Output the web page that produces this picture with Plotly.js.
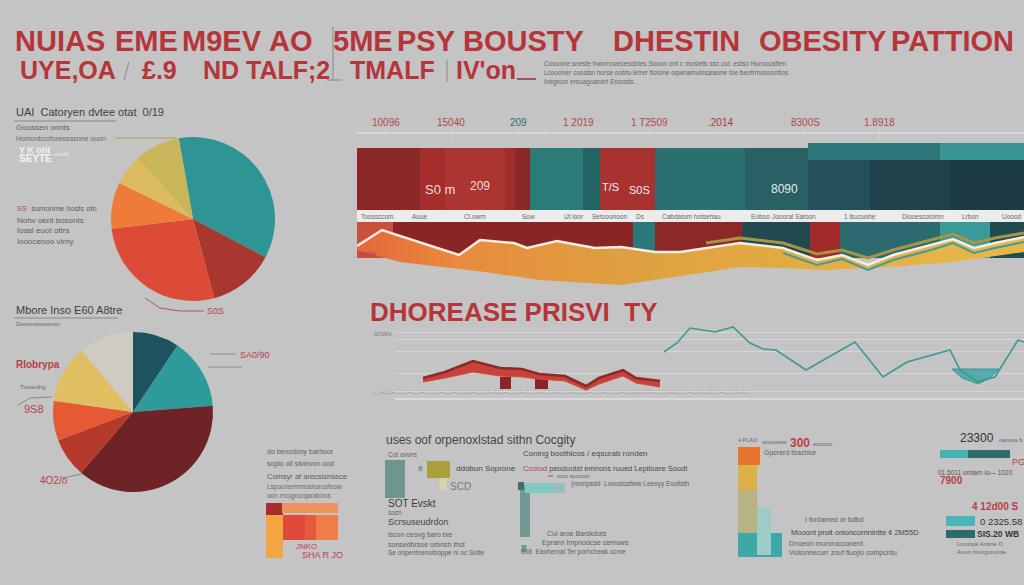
<!DOCTYPE html>
<html><head><meta charset="utf-8">
<script src="https://cdn.plot.ly/plotly-3.0.1.min.js"></script>
<style>html,body{margin:0;padding:0;background:#c4c4c4}#chart{width:1024px;height:585px}</style>
</head><body><div id="chart"></div>
<script>
// ================= DATA =================
const pie1Labels = ['Teal', 'Dark red', 'Red', 'Orange', 'Yellow', 'Olive'];
const pie1Values = [35.5, 13.1, 27.3, 9.1, 6.1, 8.9];
const pie2Labels = ['Dark teal', 'Teal', 'Dark red', 'Red', 'Orange', 'Yellow', 'Pale'];
const pie2Values = [9.4, 14.4, 37.5, 8.0, 8.0, 11.7, 11.1];

const titleWords1 = ['NUIAS', 'EME', 'M9EV', 'AO', '5ME', 'PSY', 'BOUSTY', 'DHESTIN', 'OBESITY', 'PATTION'];
const titleWords2 = ['UYE,OA', '£.9', 'ND', 'TALF;2', 'TMALF', "IV'on"];
const timelineLabels = ['10096', '15040', '209', '1 2019', '1 T2509', '.2014', '8300S', '1.8918'];
const stripLabels = ['Toossccom.', 'Auue', 'Cl.owm', 'Sow', 'Ut loor', 'Setooonoon', 'Ds', 'Cabdatom hotsehau', 'Eoboo', 'Joooral Satoon', '1 lsucuohe', 'Dlooescotomn', 'Lrbon', 'Uoood'];

// band segments (edges along the time axis) and band value range
const bandEdges = [357, 420, 445, 505, 515, 530, 583, 600, 655, 745, 808, 870, 950, 1024];
const bandLow = 80, bandHigh = 142;
const topStripEdges = [808, 940, 1024];
const topStripLow = 130, topStripHigh = 147;
const whiteStripLow = 68, whiteStripHigh = 80;
const darkStripEdges = [357, 393, 633, 655, 742, 810, 840, 940, 990, 1024];
const darkStripLow = 32, darkStripHigh = 68;

// wave area
const waveX = [357, 382, 459, 480, 514, 527, 557, 595, 621, 655, 680, 706, 740, 783, 817, 842, 868, 893, 931, 953, 974, 995, 1024];
const waveY = [44, 60, 35, 50, 47, 42, 49, 42, 43, 38, 38, 42, 47, 42, 30, 35, 25, 35, 45, 51, 42, 47, 53];
const waveBaseX = [357, 400, 485, 540, 621, 740, 783, 825, 889, 953, 1024];
const waveBaseY = [40, 28, 18, 10, 5, 23, 22, 20, 23, 28, 38];
const oliveX = [706, 740, 783, 817, 842, 868, 893, 931, 953, 974, 995, 1024];
const oliveY = [47, 52, 47, 36, 40, 32, 40, 50, 56, 47, 52, 57];
const tealWaveX = [783, 817, 842, 868, 893, 931, 953, 974, 995, 1024];
const tealWaveY = [37, 25, 31, 20, 30, 40, 47, 37, 42, 48];

// line chart
const tealX = [664, 677, 690, 715, 733, 750, 763, 776, 806, 855, 883, 907, 950, 960, 978, 995, 1018, 1024];
const tealY = [46, 55, 70, 66, 71, 55, 49, 48, 28, 56, 21, 36, 48, 28, 16, 21, 58, 56];
const tealPoolX = [952, 999, 990, 978, 962, 952];
const tealPoolY = [29, 29, 20, 14, 20, 29];
const redX = [423, 445, 473, 500, 522, 539, 565, 586, 599, 623, 636, 660];
const redHigh = [20, 26, 37, 30, 29, 24, 22, 12, 20, 28, 20, 17];
const redLow = [16, 20, 26, 22, 21, 19, 17, 8, 14, 22, 15, 11];
const redBlockX = [505.5, 541.5];
const redBlockW = [11, 13];
const redBlockBase = [9, 9];
const redBlockH = [12, 12];
const gridVals = [66, 59, 47, 25, 7];

// bottom-left mini stacked bars
const mbX = [274.5, 294, 310.5, 327, 274.5, 310];
const mbW = [17, 22, 11, 22, 17, 56];
const mbBase = [7, 25, 25, 25, 50, 52];
const mbH = [43, 25, 25, 25, 12, 10];

// middle bottom bars
const mdX = [395, 438.5, 443, 525, 540, 558, 521, 524];
const mdW = [20, 23, 7, 10, 30, 14, 6, 5];
const mdBase = [62, 82, 70, 23, 67, 67, 70, 8];
const mdH = [38, 17, 12, 52, 10, 10, 8, 7];

// right vertical bars
const rvX = [749, 747.5, 747.5, 760, 764];
const rvW = [22, 19, 19, 44, 14];
const rvBase = [95, 70, 25, 3, 5];
const rvH = [18, 25, 45, 24, 48];

// far right horizontal bars
const rhY = [91, 91, 24, 11];
const rhT = [8, 8, 10, 8];
const rhBase = [940, 968, 946, 946];
const rhLen = [28, 42, 29, 29];

// ================= STYLE =================
const W = 1024, H = 585;
const FONT = 'Liberation Sans, Arial, sans-serif';
const RED = '#b5353a';
const bandColors = ['#8c2727', '#a52e2c', '#ad3531', '#9e2d2c', '#8a2828', '#2b7b79', '#236462', '#a83230', '#2b7070', '#296066', '#24505a', '#1f4149', '#1c3a42'];
const topStripColors = ['#2c7878', '#3a9393'];
const darkStripColors = ['#c9503a', '#8a2525', '#2a7878', '#8c2828', '#22494f', '#a12a2a', '#2b6a6e', '#3a9a9a', '#1f4a50'];
const mbColors = ['#f2a540', '#df4a3a', '#e8583c', '#f07c48', '#a92c2c', '#ef9262'];
const mdColors = ['#6e9590', '#a9a03c', '#d9d3a8', '#6f9a95', '#7fcac3', '#97bfbb', '#4b6b6b', '#6f9a95'];
const rvColors = ['#e8742e', '#dcb048', '#b9b283', '#3ea7a8', '#9dcbc5'];
const rhColors = ['#45b2b2', '#2f6b6a', '#4bb4bb', '#2b6b6d'];

const dom = (a, b) => [a / W, b / W];
const domY = (top, bottom) => [1 - bottom / H, 1 - top / H];

function segBars(edges, low, high, colors, xa, ya) {
  const x = [], w = [];
  for (let i = 0; i < edges.length - 1; i++) { x.push((edges[i] + edges[i + 1]) / 2); w.push(edges[i + 1] - edges[i]); }
  return { type: 'bar', x, y: x.map(() => high - low), base: low, width: w, xaxis: xa, yaxis: ya,
    marker: { color: colors, line: { width: 0 } }, hoverinfo: 'skip', showlegend: false };
}
function bars(x, w, base, h, colors, xa, ya, orient) {
  const t = { type: 'bar', base, width: w, xaxis: xa, yaxis: ya, marker: { color: colors, line: { width: 0 } }, hoverinfo: 'skip', showlegend: false };
  if (orient === 'h') { t.orientation = 'h'; t.y = x; t.x = h; } else { t.x = x; t.y = h; }
  return t;
}

const traces = [];
traces.push({ type: 'pie', labels: pie1Labels, values: pie1Values, sort: false, direction: 'clockwise', rotation: -10,
  marker: { colors: ['#2e9494', '#a8382f', '#dc4a38', '#ef7b38', '#ddbb60', '#c8b658'], line: { width: 0 } },
  textinfo: 'none', hoverinfo: 'skip', domain: { x: dom(111, 275), y: domY(137, 301) }, showlegend: false });
traces.push({ type: 'pie', labels: pie2Labels, values: pie2Values, sort: false, direction: 'clockwise', rotation: 0,
  marker: { colors: ['#1d5260', '#2e9b9b', '#6e2326', '#b63a2c', '#e55a35', '#e0bf62', '#d0cbc2'], line: { width: 0 } },
  textinfo: 'none', hoverinfo: 'skip', domain: { x: dom(53, 213), y: domY(332, 492) }, showlegend: false });

// band
traces.push(segBars(bandEdges, bandLow, bandHigh, bandColors, 'x', 'y'));
traces.push(segBars(topStripEdges, topStripLow, topStripHigh, topStripColors, 'x', 'y'));
traces.push(segBars([357, 1024], whiteStripLow, whiteStripHigh, ['#ececec'], 'x', 'y'));
traces.push(segBars(darkStripEdges, darkStripLow, darkStripHigh, darkStripColors, 'x', 'y'));
// wave
traces.push({ type: 'scatter', mode: 'lines', x: waveBaseX, y: waveBaseY, line: { width: 0, color: 'rgba(0,0,0,0)' }, xaxis: 'x', yaxis: 'y', hoverinfo: 'skip', showlegend: false });
traces.push({ type: 'scatter', mode: 'lines', x: waveX, y: waveY, fill: 'tonexty',
  fillgradient: { type: 'horizontal', colorscale: [[0, '#e4683a'], [0.15, '#e98a3c'], [0.4, '#dea040'], [0.7, '#e5ad42'], [1, '#e6b84a']] },
  fillcolor: '#e2a040', line: { color: '#f3eee4', width: 2.5 }, xaxis: 'x', yaxis: 'y', hoverinfo: 'skip', showlegend: false });
traces.push({ type: 'scatter', mode: 'lines', x: oliveX, y: oliveY, line: { color: '#a89446', width: 3 }, xaxis: 'x', yaxis: 'y', hoverinfo: 'skip', showlegend: false });
traces.push({ type: 'scatter', mode: 'lines', x: tealWaveX, y: tealWaveY, line: { color: '#3f9c9e', width: 2 }, xaxis: 'x', yaxis: 'y', hoverinfo: 'skip', showlegend: false });

// line chart
traces.push({ type: 'scatter', mode: 'lines', x: redX, y: redLow, line: { color: '#d04a3a', width: 1 }, xaxis: 'x2', yaxis: 'y2', hoverinfo: 'skip', showlegend: false });
traces.push({ type: 'scatter', mode: 'lines', x: redX, y: redHigh, fill: 'tonexty', fillcolor: '#c8423a', line: { color: '#8c2a2a', width: 2.5 }, xaxis: 'x2', yaxis: 'y2', hoverinfo: 'skip', showlegend: false });
traces.push(bars(redBlockX, redBlockW, redBlockBase, redBlockH, '#8b2424', 'x2', 'y2'));
traces.push({ type: 'scatter', mode: 'lines', x: tealPoolX, y: tealPoolY, fill: 'toself', fillcolor: 'rgba(58,165,160,0.8)', line: { color: '#3a9a98', width: 1 }, xaxis: 'x2', yaxis: 'y2', hoverinfo: 'skip', showlegend: false });
traces.push({ type: 'scatter', mode: 'lines', x: tealX, y: tealY, line: { color: '#3a9896', width: 1.6 }, xaxis: 'x2', yaxis: 'y2', hoverinfo: 'skip', showlegend: false });

// bottom bars
traces.push(bars(mbX, mbW, mbBase, mbH, mbColors, 'x3', 'y3'));
traces.push(bars(mdX, mdW, mdBase, mdH, mdColors, 'x4', 'y4'));
traces.push(bars(rvX, rvW, rvBase, rvH, rvColors, 'x5', 'y5'));
traces.push(bars(rhY, rhT, rhBase, rhLen, rhColors, 'x6', 'y6', 'h'));

// ================= TEXT =================
function T(x, y, text, size, color, extra) {
  const f = Object.assign({ family: FONT, size, color }, (extra && extra.font) || {});
  const a = { xref: 'paper', yref: 'paper', x: x / W, y: 1 - y / H, text, showarrow: false, xanchor: 'left', yanchor: 'middle', font: f };
  if (extra && extra.xanchor) a.xanchor = extra.xanchor;
  return a;
}
function L(x0, y0, x1, y1, color, width) {
  return { type: 'line', xref: 'paper', yref: 'paper', x0: x0 / W, y0: 1 - y0 / H, x1: x1 / W, y1: 1 - y1 / H, line: { color, width } };
}
function P(pts, color, width) {
  const d = pts.map((p, i) => (i ? 'L ' : 'M ') + (p[0] / W) + ' ' + (1 - p[1] / H)).join(' ');
  return { type: 'path', xref: 'paper', yref: 'paper', path: d, line: { color, width } };
}
const bold = { font: { weight: 'bold' } };
const ann = [];
const G = '#5e5e5e';

// title
const t1X = [60, 146, 222, 291, 363, 426, 523, 676, 822, 952];
titleWords1.forEach((w, i) => ann.push(T(t1X[i], 41, w, 29, RED, { xanchor: 'center', font: { weight: 'bold' } })));
const t2X = [68, 159, 221, 288, 392, 486];
titleWords2.forEach((w, i) => ann.push(T(t2X[i], 70, w, 25, RED, { xanchor: 'center', font: { weight: 'bold' } })));
ann.push(T(542, 63, 'Cosoone sneste hworrcwecesobtes Sooon ont c mosletb ssc cot. estso Huroocaften', 6.5, '#666'));
ann.push(T(542, 73, 'Lcoooner coosisn horse oobtu letrer ttotone oqwnamuinsaiaone toe beotrmosoonttos', 6.5, '#666'));
ann.push(T(542, 82, 'Inegroor ersuagoanert Enoosts..', 6.5, '#666'));

// left column, pie 1
ann.push(T(14, 112, 'UAI  Catoryen dvtee otat  0/19', 11, '#3e3e3e'));
ann.push(T(14, 127, 'Goossen oonts', 8, G));
ann.push(T(14, 138, 'Homonbcoforeesasnne ouon', 7, '#6a6a6a'));
ann.push(T(17, 150, 'Y K otit', 9, '#f4f4f4', bold));
ann.push(T(17, 159, 'SEYTE', 10, '#f4f4f4', bold));
ann.push(T(52, 154, 'conid', 6, '#f0f0f0'));
ann.push(T(15, 208, '<span style="color:#c04048">SS</span>  sumonme hosts otn', 7.5, G));
ann.push(T(15, 220, 'Nohv oent bosonts', 8, G));
ann.push(T(15, 231, 'Ioasl euot ottrs', 8, G));
ann.push(T(15, 242, 'Iooocenoo vlrny', 8, G));
ann.push(T(205, 311, 'S0S', 9, '#b84048'));
ann.push(T(14, 310, 'Mbore Inso E60 A8tre', 11, '#3e3e3e'));
ann.push(T(14, 324, 'Deeomsocesonsn', 5.5, '#666'));
// pie 2 labels
ann.push(T(14, 364, 'Rlobrypa', 10, '#b84048', bold));
ann.push(T(18, 387, 'Treoeuhg', 6, '#666'));
ann.push(T(22, 409, '9S8', 11, '#b84048'));
ann.push(T(38, 480, '4O2/o', 10, '#b84048'));
ann.push(T(238, 355, 'SA0/90', 9, '#b84048'));

// timeline
const tlX = [386, 451, 518, 578, 649, 720, 805, 879];
const tlC = ['#b04848', '#b04848', '#2e6e7e', '#b04848', '#b04848', '#a83a3a', '#b04848', '#b04848'];
timelineLabels.forEach((s, i) => ann.push(T(tlX[i], 122, s, 10, tlC[i], { xanchor: 'center' })));
// band labels
ann.push(T(423, 190, 'S0 m', 13, '#f3dede'));
ann.push(T(468, 186, '209', 12, '#f3dede'));
ann.push(T(600, 187, 'T/S', 11, '#eaf0f0'));
ann.push(T(627, 190, 'S0S', 11, '#eaf0f0'));
ann.push(T(769, 189, '8090', 12, '#e3ecec'));
const slX = [359, 410, 462, 520, 562, 590, 634, 660, 749, 770, 842, 900, 960, 1000];
stripLabels.forEach((s, i) => ann.push(T(slX[i], 216, s, 6.5, '#666')));
ann.push(T(359, 254, 'SVIF', 7, '#b84048'));

// line chart section
ann.push(T(368, 312, 'DHOREASE PRISVI  TY', 26, RED, { font: { weight: 'bold' } }));
ann.push(T(372, 334, 'SOWN', 5.5, '#777'));
ann.push(T(370, 391, '.. .:-.:.:-.:.:.:.-.:.:.:-.:.:.:.:-.:.:.:-.:.:.:.:-.:.:.:.:-.:.:.:-.:.:.:.:-.:.:.:.:-.:.:.:-.:.:.:.:-.:.:.:.:-.:.:.:-.:.:.:.:-.:.:.:.:-.:.:.:-.:.:.:.:-.:.:.:.:-.:.:.:-.:.:.:.:-.:.:.:.:-.:.:', 7, '#7a7a7a'));

// bottom left
ann.push(T(265, 452, 'do bencdony barhoor', 7, G));
ann.push(T(265, 464, 'soplo oil stvinvon ood', 7, G));
ann.push(T(265, 476, 'Comsyr af arecsisnsece', 7.5, G));
ann.push(T(265, 487, 'Lspoonermmoshorosfoow', 6.5, '#6a6a6a'));
ann.push(T(265, 496, 'oon rrcogrocqaratoros', 6.5, '#6a6a6a'));
ann.push(T(294, 546, 'JNKO', 8, '#c04048'));
ann.push(T(300, 555, 'SHA R JO', 9, '#c04048'));

// bottom middle
ann.push(T(384, 440, 'uses oof orpenoxlstad sithn Cocgity', 12, '#444'));
ann.push(T(386, 454, 'Cot ovvns', 6.5, G));
ann.push(T(416, 468, '9', 8, G));
ann.push(T(454, 468, 'ddobun Soprone', 8, '#444'));
ann.push(T(448, 486, 'SCD', 10, '#777'));
ann.push(T(386, 503, 'SOT Evskt', 10, '#3a3a3a'));
ann.push(T(386, 512, 'socn', 6.5, G));
ann.push(T(386, 522, 'Scrsuseudrdon', 9, '#444'));
ann.push(T(386, 535, 'iscon ceovg baro txe', 7, G));
ann.push(T(386, 544, 'sonsedhrsoe orbnsh thst', 7, G));
ann.push(T(386, 553, 'Se onpentnenoiboppe ni oc Sotte', 6.5, G));
ann.push(T(521, 453, 'Coning boothicos / eqsurab ronden', 8, '#4a4a4a'));
ann.push(T(521, 468, '<span style="color:#b84048">Ccorod</span> peoduotst emnons ruued Lepitoare Soodt', 7.5, '#4a4a4a'));
ann.push(T(555, 476, 'ocsc sponour', 5.5, '#666'));
ann.push(T(569, 484, '(ronnpsdd  Lxoustosfiew Leeoyy Exoltsth', 6.5, G));
ann.push(T(545, 533, 'Cui aroe Barskdots', 7, G));
ann.push(T(540, 543, 'Eprann hnpnodcse cemows', 7, G));
ann.push(T(519, 552, '008  Eaohernal Ter porhcheak ocme', 6.5, G));

// right bars text
ann.push(T(736, 440, '4 PLAO', 5.5, '#666'));
ann.push(T(760, 442, 'scoowow', 6, '#666'));
ann.push(T(788, 443, '300', 12, '#b84048', bold));
ann.push(T(811, 444, 'ecocon', 6, '#666'));
ann.push(T(762, 453, 'Gpcrerd tirachlor', 7, G));
ann.push(T(803, 519, 'I fonlamed or bdbd', 7, G));
ann.push(T(789, 532, 'Mooont proit onioncorrinintte ¢ 2M55D', 7.5, '#444'));
ann.push(T(787, 543, 'Dnoeon rnurorocoonent', 7, G));
ann.push(T(787, 553, 'Vlotonnecurr zouf fluojio cotnpcrdu', 7, G));

// far right text
ann.push(T(958, 438, '23300', 12, '#333'));
ann.push(T(997, 440, 'oamoa b', 6, '#666'));
ann.push(T(1010, 462, 'PG', 9, '#b84048'));
ann.push(T(936, 472, '01.5011 omlarn io— 1020', 6.5, '#555'));
ann.push(T(938, 480, '7900', 10, '#b84048', bold));
ann.push(T(970, 506, '4 12d00 S', 10, '#b84048', bold));
ann.push(T(978, 521, '0 2325.58', 9.5, '#333'));
ann.push(T(975, 534, 'SIS.20 WB', 8.5, '#333', bold));
ann.push(T(955, 544, 'Lomnok Antine O', 6, '#666'));
ann.push(T(955, 552, 'Anun hvorgoronde', 6, '#666'));

// ================= SHAPES =================
const shapes = [];
shapes.push(L(333, 27, 333, 81, '#8a8a8a', 1));
shapes.push(L(129, 62, 124, 80, '#8a8a8a', 1));
shapes.push(L(447, 60, 447, 82, '#8a8a8a', 1));
shapes.push(L(327, 80, 342, 80, '#8a8a8a', 1));
shapes.push(L(517, 79, 536, 79, '#9a2e33', 1.5));
shapes.push(L(14, 121, 116, 121, '#888', 1));
shapes.push(L(115, 138, 176, 138, '#a8a060', 1));
shapes.push(L(14, 318, 118, 318, '#888', 1));
shapes.push(P([[145, 298], [160, 308], [180, 311], [204, 311]], '#c05050', 1));
shapes.push(L(210, 354, 236, 354, '#8a8a8a', 1));
shapes.push(L(208, 367, 242, 367, '#8a8a8a', 1));
shapes.push(P([[18, 405], [30, 398], [52, 397]], '#888', 1));
shapes.push(L(62, 478, 82, 474, '#888', 1));
shapes.push(L(357, 133, 1024, 133, '#dcdcdc', 1.5));
[386, 452, 518, 546, 650, 720, 805, 879].forEach(x => shapes.push(L(x, 129, x, 140, '#d4d4d4', 1)));
shapes.push(L(548, 476, 553, 476, '#666', 1));

const hid = { visible: false, fixedrange: true };
const layout = {
  width: W, height: H, margin: { l: 0, r: 0, t: 0, b: 0 },
  paper_bgcolor: '#c4c4c4', plot_bgcolor: 'rgba(0,0,0,0)', showlegend: false, barmode: 'overlay',
  font: { family: FONT },
  xaxis: Object.assign({ domain: dom(357, 1024), range: [357, 1024] }, hid),
  yaxis: Object.assign({ domain: domY(110, 290), range: [0, 180] }, hid),
  xaxis2: { domain: dom(395, 1024), range: [395, 1024], showgrid: false, zeroline: false, showline: true, linecolor: '#d8d8d8', linewidth: 1.5, showticklabels: false, ticks: '', anchor: 'y2' },
  yaxis2: { domain: domY(320, 398), range: [0, 78], showgrid: true, gridcolor: '#d6d6d6', gridwidth: 1, tickvals: gridVals, zeroline: false, showline: false, showticklabels: false, ticks: '', anchor: 'x2' },
  xaxis3: Object.assign({ domain: dom(260, 350), range: [260, 350], anchor: 'y3' }, hid),
  yaxis3: Object.assign({ domain: domY(495, 565), range: [0, 70], anchor: 'x3' }, hid),
  xaxis4: Object.assign({ domain: dom(380, 580), range: [380, 580], anchor: 'y4' }, hid),
  yaxis4: Object.assign({ domain: domY(455, 560), range: [0, 105], anchor: 'x4' }, hid),
  xaxis5: Object.assign({ domain: dom(730, 790), range: [730, 790], anchor: 'y5' }, hid),
  yaxis5: Object.assign({ domain: domY(440, 560), range: [0, 120], anchor: 'x5' }, hid),
  xaxis6: Object.assign({ domain: dom(935, 1024), range: [935, 1024], anchor: 'y6' }, hid),
  yaxis6: Object.assign({ domain: domY(445, 545), range: [0, 100], anchor: 'x6' }, hid),
  annotations: ann, shapes: shapes
};
Plotly.newPlot('chart', traces, layout, { staticPlot: true, displayModeBar: false });
</script>
</body></html>
